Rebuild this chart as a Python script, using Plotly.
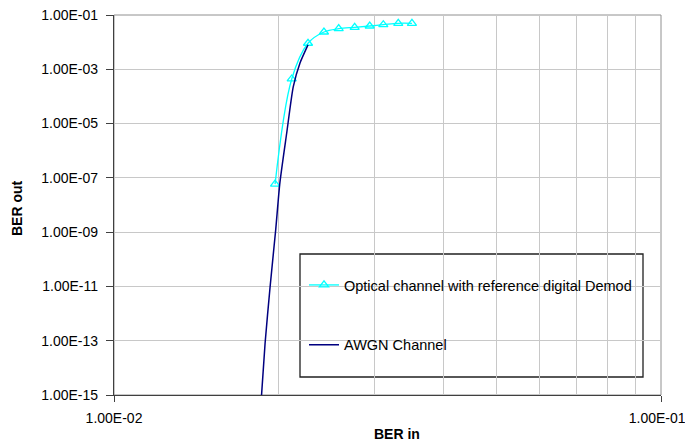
import plotly.graph_objects as go

# Data
ber_in_optical = [0.01970, 0.02113, 0.02263, 0.02420, 0.02575, 0.02754, 0.02934, 0.03107, 0.03309, 0.03505]
ber_out_optical = [5.9e-8, 4.4e-4, 9.1e-3, 2.36e-2, 3.13e-2, 3.52e-2, 3.93e-2, 4.39e-2, 4.94e-2, 4.94e-2]

ber_in_awgn = [0.01861, 0.01889, 0.01929, 0.01975, 0.02010, 0.02069, 0.02127, 0.02188, 0.02263]
ber_out_awgn = [1e-15, 8.2e-14, 9.5e-12, 1.2e-9, 6.4e-8, 4.5e-6, 2.3e-4, 1.7e-3, 7.9e-3]

x_tick_vals = [0.01, 0.1]
x_tick_text = ["1.00E-02", "1.00E-01\u00a0\u00a0"]
x_minor_vals = [0.02, 0.03, 0.04, 0.05, 0.06, 0.07, 0.08, 0.09]
y_tick_vals = [1e-1, 1e-3, 1e-5, 1e-7, 1e-9, 1e-11, 1e-13, 1e-15]
y_tick_text = ["1.00E-01", "1.00E-03", "1.00E-05", "1.00E-07", "1.00E-09", "1.00E-11", "1.00E-13", "1.00E-15"]

FONT = "Liberation Sans, Arial, sans-serif"

fig = go.Figure()
fig.add_trace(go.Scatter(
    x=ber_in_optical, y=ber_out_optical, mode="lines+markers",
    name="Optical channel with reference digital Demod",
    legendgroup="a",
    line=dict(color="#00FFFF", width=1.3, shape="spline", smoothing=1),
    marker=dict(symbol="triangle-up-open", size=8, color="#00FFFF", line=dict(width=1.3, color="#00FFFF")),
))
fig.add_trace(go.Scatter(
    x=ber_in_awgn, y=ber_out_awgn, mode="lines",
    name="AWGN Channel",
    legendgroup="b",
    line=dict(color="#000080", width=1.5, shape="spline", smoothing=0.6),
))

OFF = 8  # page body margin
W, H = 693 - OFF, 445 - OFF
L, T = 114 - OFF, 15 - OFF
pw, ph = 547, 380
R = W - L - pw
B = H - T - ph

def px_x(p):
    return (p - 114) / pw

def px_y(p):
    return (395 - p) / ph

fig.update_layout(
    width=W, height=H,
    margin=dict(l=L, r=R, t=T, b=B, autoexpand=False),
    paper_bgcolor="white", plot_bgcolor="white",
    font=dict(family=FONT, size=14, color="black"),
    showlegend=True,
    legend=dict(
        x=px_x(304), y=px_y(269), xanchor="left", yanchor="top",
        bgcolor="rgba(0,0,0,0)", borderwidth=0,
        font=dict(family=FONT, size=14.5, color="black"),
        tracegroupgap=38, itemwidth=30,
    ),
    xaxis=dict(
        type="log", range=[-2, -1], automargin=False,
        tickmode="array", tickvals=x_tick_vals, ticktext=x_tick_text,
        ticks="outside", ticklen=6, tickcolor="#404040",
        showgrid=False, zeroline=False,
        showline=True, linecolor="#404040", linewidth=1.3,
        ticklabelstandoff=4, ticklabeloverflow="allow",
        tickfont=dict(family=FONT, size=14),
        minor=dict(tickmode="array", tickvals=x_minor_vals, showgrid=True,
                   gridcolor="#c8c8c8", gridwidth=1, ticks=""),
    ),
    yaxis=dict(
        type="log", range=[-15, -1], automargin=False,
        tickmode="array", tickvals=y_tick_vals, ticktext=y_tick_text,
        ticks="outside", ticklen=7, tickcolor="#404040",
        showgrid=True, gridcolor="#c8c8c8", gridwidth=1, zeroline=False,
        showline=True, linecolor="#404040", linewidth=1.3,
        ticklabelstandoff=5, ticklabeloverflow="allow",
        tickfont=dict(family=FONT, size=14),
    ),
    shapes=[
        dict(type="rect", xref="paper", yref="paper", x0=0, x1=1, y0=0, y1=1,
             line=dict(color="#909090", width=1), layer="below"),
        dict(type="rect", xref="paper", yref="paper",
             x0=px_x(300), x1=px_x(643), y0=px_y(377), y1=px_y(254),
             line=dict(color="#202020", width=1.3), fillcolor="white", layer="below"),
    ],
    annotations=[
        dict(text="<b>BER in</b>", xref="paper", yref="paper", x=px_x(397), y=px_y(434),
             showarrow=False, font=dict(family=FONT, size=14), xanchor="center", yanchor="middle"),
        dict(text="<b>BER out</b>", xref="paper", yref="paper", x=px_x(17), y=px_y(208),
             showarrow=False, textangle=-90, font=dict(family=FONT, size=14),
             xanchor="center", yanchor="middle"),
    ],
)

fig.write_html("out.html")
